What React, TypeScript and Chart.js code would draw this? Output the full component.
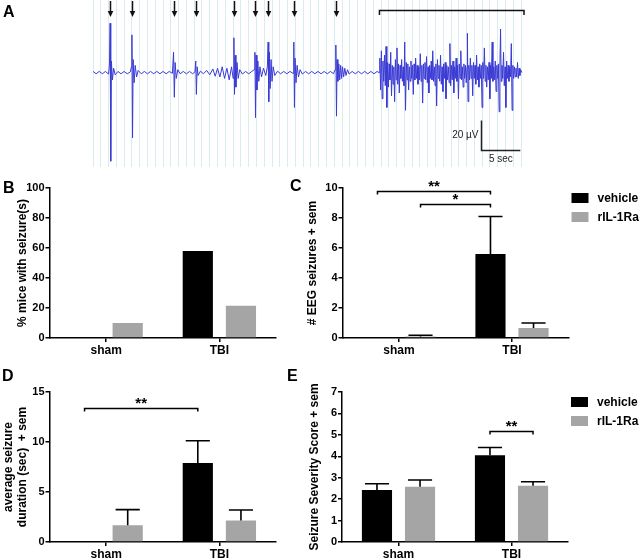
import React, { useEffect, useRef } from 'react';
import { Chart, registerables } from 'chart.js';

Chart.register(...registerables);

const FONT = "'Liberation Sans', Arial, Helvetica, sans-serif";
Chart.defaults.font.family = FONT;
Chart.defaults.color = '#000';

// ---------- Panel A: EEG trace (time in s, amplitude in µV) ----------
const eegSamples: [number, number][] = [
  [0.0, 0.8], [0.4, -0.8], [0.8, 0.8], [1.2, -0.8], [1.6, 0.8], [2.0, -1],
  [2.12, 6], [2.2, 34], [2.28, -61], [2.36, 8], [2.5, -5], [2.65, 3], [2.85, -1.5],
  [3.2, 0.8], [3.6, -0.8], [4.0, 0.8], [4.4, -0.8], [4.8, 0.5],
  [4.93, 4], [5.0, 26], [5.08, -45], [5.16, 9], [5.28, -7], [5.42, 5], [5.6, -3], [5.8, 1.5],
  [6.2, -0.8], [6.6, 0.8], [7.0, -0.8], [7.4, 0.8], [7.8, -0.8], [8.2, 0.8], [8.6, -0.8],
  [9.0, 0.8], [9.4, -0.8], [9.8, 0.8], [10.2, -0.5],
  [10.35, 14], [10.45, -17], [10.55, 7], [10.7, -4], [10.9, 2],
  [11.2, -0.8], [11.6, 0.8], [12.0, -0.8], [12.4, 0.8], [12.8, -0.8], [13.1, 0.5],
  [13.2, 8], [13.28, -15], [13.38, 4], [13.5, -2], [13.8, 1],
  [14.2, -0.8], [14.6, 1.5], [15.0, -1.5], [15.4, 2.5], [15.7, -2.5], [16.0, 3], [16.3, -3],
  [16.6, 4], [16.9, -4], [17.2, 3], [17.5, -5], [17.8, 4], [18.0, -4],
  [18.1, 24], [18.18, -15], [18.26, 12], [18.36, -10], [18.5, 7], [18.65, -4], [18.85, 2],
  [19.2, -1], [19.6, 0.8], [20.0, -0.8], [20.4, 0.8], [20.7, 2],
  [20.8, 14], [20.88, -31], [20.96, 12], [21.06, -12], [21.18, 8], [21.3, -6], [21.45, 4],
  [21.65, -3], [21.9, 3], [22.2, -2], [22.4, 4],
  [22.5, 21], [22.58, -20], [22.66, 14], [22.76, -11], [22.88, 9], [23.0, -6], [23.15, 4], [23.35, -2],
  [23.7, 1], [24.1, -0.8], [24.5, 0.8], [24.9, -0.8], [25.3, 0.8], [25.7, -0.5],
  [25.8, 21], [25.88, -24], [25.96, 10], [26.08, -7], [26.22, 5], [26.4, -3], [26.6, 2], [26.9, -1],
  [27.3, 0.8], [27.7, -0.8], [28.1, 0.8], [28.5, -0.8], [28.9, 0.8], [29.3, -0.8], [29.7, 0.8],
  [30.1, -0.8], [30.5, 0.8], [30.9, -0.8], [31.1, 2],
  [31.2, 19], [31.28, -30], [31.36, 9], [31.46, -6], [31.58, 6], [31.7, -5], [31.82, 5], [31.94, -4],
  [32.06, 4], [32.2, -3], [32.35, 3], [32.5, -2], [32.7, 2], [32.9, -1],
  [33.3, 0.8], [33.7, -0.8], [34.1, 0.8], [34.5, -0.8], [34.9, 0.8], [35.3, -0.8], [35.7, 0.8],
  [36.1, -0.8], [36.5, 0.8], [36.75, 0],
  [36.85, 10], [36.95, -12], [37.05, 15], [37.15, -18], [37.25, 8], [37.35, -6], [37.45, 12],
  [37.55, -9], [37.65, 18], [37.75, -24], [37.85, 7], [37.95, -10], [38.05, 6], [38.15, -5],
  [38.25, 14], [38.35, -16], [38.45, 5], [38.55, -8], [38.65, 4], [38.75, -20], [38.85, 9],
  [38.95, -5], [39.05, 17], [39.15, -8], [39.25, 6], [39.35, -14], [39.45, 5], [39.55, -4],
  [39.65, 9], [39.75, -6], [39.85, 4], [39.95, -9], [40.05, 21], [40.15, -26], [40.25, 7],
  [40.35, -5], [40.45, 6], [40.55, -12], [40.65, 4], [40.75, -6], [40.85, 8], [40.95, -4],
  [41.05, 5], [41.15, -15], [41.25, 6], [41.35, -5], [41.45, 10], [41.55, -4], [41.65, 5],
  [41.75, -8], [41.85, 4], [41.95, -5], [42.05, 13], [42.15, -6], [42.25, 5], [42.35, -21],
  [42.45, 6], [42.55, -4], [42.65, 7], [42.75, -5], [42.85, 11], [42.95, -7], [43.05, 4],
  [43.15, -14], [43.25, 5], [43.35, -4], [43.45, 8], [43.55, -5], [43.65, 15], [43.75, -6],
  [43.85, 4], [43.95, -9], [44.05, 6], [44.15, -23], [44.25, 9], [44.35, -4], [44.45, 5],
  [44.55, -6], [44.65, 12], [44.75, -8], [44.85, 4], [44.95, -13], [45.05, 6], [45.15, -4],
  [45.25, 7], [45.35, -18], [45.45, 5], [45.55, -5], [45.65, 4], [45.75, -7], [45.85, 20],
  [45.95, -9], [46.05, 5], [46.15, -5], [46.25, 8], [46.35, -14], [46.45, 4], [46.55, -4],
  [46.65, 10], [46.75, -6], [46.85, 5], [46.95, -18], [47.05, 6], [47.15, -4], [47.25, 15],
  [47.35, -5], [47.45, 4], [47.55, -10], [47.65, 6], [47.75, -4], [47.85, 5], [47.95, -7],
  [48.05, 4], [48.1, 27], [48.18, -20], [48.28, 5], [48.38, -5], [48.48, 10], [48.58, -4],
  [48.68, 5], [48.78, -16], [48.88, 7], [48.98, -4], [49.08, 5], [49.18, -8], [49.28, 12],
  [49.38, -5], [49.48, 4], [49.58, -10], [49.68, 6], [49.78, -4], [49.88, 5], [49.98, -24],
  [50.08, 7], [50.18, -4], [50.28, 17], [50.38, -6], [50.48, 5], [50.58, -10], [50.68, 4],
  [50.78, -5], [50.88, 7], [50.98, -18], [51.08, 5], [51.18, -4], [51.28, 21], [51.38, -6],
  [51.48, 4], [51.58, -5], [51.68, 8], [51.78, -13], [51.88, 5], [51.98, -4], [52.08, 6],
  [52.18, -27], [52.28, 5], [52.36, 30], [52.44, -6], [52.54, 5], [52.64, -4], [52.74, 14],
  [52.84, -9], [52.94, 4], [53.04, -24], [53.14, 8], [53.24, -4], [53.34, 5], [53.44, -6],
  [53.54, 4], [53.64, -3], [53.74, 20], [53.84, -26], [53.94, 5], [54.04, -4], [54.14, 4],
  [54.24, -3], [54.34, 3], [54.44, -3], [54.54, 7], [54.64, -4], [54.74, 3], [54.84, -2],
  [54.94, 2], [55.1, 0],
];
const seizureArrowTimes = [2.2, 5.0, 10.4, 13.2, 18.1, 20.8, 22.5, 25.8, 31.2];
const seizureBracketTimes = [36.8, 55.5];
const scaleBarTime = 49.9; // start of 5 sec bar
const scaleBarMicroVolt = -53; // base of 20 µV bar
const scaleBarLabels = ['20 µV', '5 sec'];

// ---------- Bar panels ----------
const groups = ['sham', 'TBI'];
const seriesNames = ['vehicle', 'rIL-1Ra'];
const seriesColors = ['#000000', '#a5a5a5'];

const pctVehicle = [0, 58];
const pctRil = [10, 21.5];
const pctTicks = [0, 20, 40, 60, 80, 100];

const countVehicle = [0, 5.6];
const countVehicleSem = [0, 2.5];
const countRil = [0.1, 0.67];
const countRilSem = [0.08, 0.33];
const countTicks = [0, 2, 4, 6, 8, 10];
const countBrackets = [
  { from: [0, 0], to: [1, 0], level: 9.82, label: '**' },
  { from: [0, 1], to: [1, 0], level: 8.95, label: '*' },
];

const durationVehicle = [0, 7.9];
const durationVehicleSem = [0, 2.23];
const durationRil = [1.68, 2.14];
const durationRilSem = [1.56, 1.06];
const durationTicks = [0, 5, 10, 15];
const durationBrackets = [{ from: [0, 0], to: [1, 0], level: 13.37, label: '**' }];

const severityVehicle = [2.43, 4.05];
const severityVehicleSem = [0.29, 0.36];
const severityRil = [2.58, 2.62];
const severityRilSem = [0.31, 0.19];
const severityTicks = [0, 1, 2, 3, 4, 5, 6, 7];
const severityBrackets = [{ from: [1, 0], to: [1, 1], level: 5.17, label: '**' }];

// ---------- plugins ----------
const errorBars = {
  id: 'errorBars',
  afterDatasetsDraw(chart: any) {
    const ctx = chart.ctx;
    const yS = chart.scales.y;
    chart.data.datasets.forEach((ds: any, di: number) => {
      if (!ds.sem) return;
      const meta = chart.getDatasetMeta(di);
      meta.data.forEach((bar: any, i: number) => {
        const s = ds.sem[i];
        if (!s) return;
        const v = ds.data[i];
        const top = yS.getPixelForValue(v + s);
        const base = yS.getPixelForValue(v);
        const half = bar.width * 0.4;
        ctx.save();
        ctx.strokeStyle = '#000';
        ctx.lineWidth = 1.6;
        ctx.beginPath();
        ctx.moveTo(bar.x, base);
        ctx.lineTo(bar.x, top);
        ctx.moveTo(bar.x - half, top);
        ctx.lineTo(bar.x + half, top);
        ctx.stroke();
        ctx.restore();
      });
    });
  },
};

function bracketPlugin(items: any[]) {
  return {
    id: 'sigBrackets',
    afterDatasetsDraw(chart: any) {
      const ctx = chart.ctx;
      const yS = chart.scales.y;
      items.forEach((b) => {
        const x0 = chart.getDatasetMeta(b.from[1]).data[b.from[0]].x;
        const x1 = chart.getDatasetMeta(b.to[1]).data[b.to[0]].x;
        const y = Math.round(yS.getPixelForValue(b.level)) + 0.5;
        ctx.save();
        ctx.strokeStyle = '#000';
        ctx.lineWidth = 1.5;
        ctx.beginPath();
        ctx.moveTo(x0, y + 3);
        ctx.lineTo(x0, y);
        ctx.lineTo(x1, y);
        ctx.lineTo(x1, y + 3);
        ctx.stroke();
        ctx.fillStyle = '#000';
        ctx.font = `bold 15px ${FONT}`;
        ctx.textAlign = 'center';
        ctx.textBaseline = 'alphabetic';
        ctx.fillText(b.label, (x0 + x1) / 2, y - 1);
        ctx.restore();
      });
    },
  };
}

const sideLegend = {
  id: 'sideLegend',
  afterDraw(chart: any) {
    const { ctx, chartArea } = chart;
    ctx.save();
    chart.data.datasets.forEach((ds: any, i: number) => {
      const bx = chartArea.right + 3;
      const by = chartArea.top + 5 + i * 19;
      ctx.fillStyle = ds.backgroundColor;
      ctx.fillRect(bx, by, 17, 10);
      ctx.fillStyle = '#000';
      ctx.font = `bold 12px ${FONT}`;
      ctx.textAlign = 'left';
      ctx.textBaseline = 'middle';
      ctx.fillText(ds.label, bx + 26, by + 5.5);
    });
    ctx.restore();
  },
};

const eegMarks = {
  id: 'eegMarks',
  afterDatasetsDraw(chart: any) {
    const { ctx, chartArea } = chart;
    const x = chart.scales.x;
    const y = chart.scales.y;
    ctx.save();
    ctx.strokeStyle = '#111';
    ctx.fillStyle = '#111';
    ctx.lineWidth = 1.5;
    seizureArrowTimes.forEach((t) => {
      const px = Math.round(x.getPixelForValue(t)) + 0.5;
      const top = chartArea.top;
      ctx.beginPath();
      ctx.moveTo(px, top + 1);
      ctx.lineTo(px, top + 12);
      ctx.stroke();
      ctx.beginPath();
      ctx.moveTo(px - 2.8, top + 11);
      ctx.lineTo(px + 2.8, top + 11);
      ctx.lineTo(px, top + 17);
      ctx.closePath();
      ctx.fill();
    });
    const bx0 = x.getPixelForValue(seizureBracketTimes[0]);
    const bx1 = x.getPixelForValue(seizureBracketTimes[1]) - 1;
    const by = chartArea.top + 10.5;
    ctx.beginPath();
    ctx.moveTo(bx0, by + 4.5);
    ctx.lineTo(bx0, by);
    ctx.lineTo(bx1, by);
    ctx.lineTo(bx1, by + 4.5);
    ctx.stroke();

    const sx0 = Math.round(x.getPixelForValue(scaleBarTime)) + 0.5;
    const sx1 = x.getPixelForValue(scaleBarTime + 5);
    const sy0 = Math.round(y.getPixelForValue(scaleBarMicroVolt)) + 0.5;
    const sy1 = y.getPixelForValue(scaleBarMicroVolt + 20);
    ctx.strokeStyle = '#222';
    ctx.beginPath();
    ctx.moveTo(sx0, sy1);
    ctx.lineTo(sx0, sy0);
    ctx.lineTo(sx1, sy0);
    ctx.stroke();
    ctx.fillStyle = '#222';
    ctx.font = `10px ${FONT}`;
    ctx.textBaseline = 'middle';
    ctx.textAlign = 'right';
    ctx.fillText(scaleBarLabels[0], sx0 - 3, (sy0 + sy1) / 2);
    ctx.textAlign = 'center';
    ctx.fillText(scaleBarLabels[1], (sx0 + sx1) / 2, sy0 + 8.5);
    ctx.restore();
  },
};

// ---------- configs ----------
function eegConfig(): any {
  return {
    type: 'line',
    data: {
      datasets: [
        {
          data: eegSamples.map(([t, v]) => ({ x: t, y: v })),
          borderColor: '#3a3ad4',
          borderWidth: 1,
          pointRadius: 0,
          tension: 0,
        },
      ],
    },
    options: {
      animation: false,
      responsive: false,
      maintainAspectRatio: false,
      events: [],
      layout: { padding: { left: 93, right: 115, top: 0, bottom: 8 } },
      plugins: { legend: { display: false }, tooltip: { enabled: false } },
      scales: {
        x: {
          type: 'linear',
          min: 0,
          max: 55.5,
          afterBuildTicks: (s: any) => {
            s.ticks = Array.from({ length: 56 }, (_, i) => ({ value: i }));
          },
          ticks: { display: false },
          grid: { color: 'rgba(170, 215, 222, 0.45)', lineWidth: 1, drawTicks: false },
          border: { display: false },
          afterFit: (s: any) => {
            s.height = 0;
          },
        },
        y: { display: false, min: -65, max: 50 },
      },
    },
    plugins: [eegMarks],
  };
}

interface BarPanel {
  vehicle: number[];
  vehicleSem?: number[];
  ril: number[];
  rilSem?: number[];
  ticks: number[];
  title: string | string[];
  titlePad: number;
  titleLineHeight?: number;
  padTop: number;
  padRight: number;
  yWidth: number;
  xHeight: number;
  brackets: any[];
  legend: boolean;
}

function barConfig(p: BarPanel): any {
  const plugins: any[] = [errorBars, bracketPlugin(p.brackets)];
  if (p.legend) plugins.push(sideLegend);
  return {
    type: 'bar',
    data: {
      labels: groups,
      datasets: [
        {
          label: seriesNames[0],
          data: p.vehicle,
          sem: p.vehicleSem,
          backgroundColor: seriesColors[0],
          categoryPercentage: 0.762,
          barPercentage: 0.7,
        },
        {
          label: seriesNames[1],
          data: p.ril,
          sem: p.rilSem,
          backgroundColor: seriesColors[1],
          categoryPercentage: 0.762,
          barPercentage: 0.7,
        },
      ],
    },
    options: {
      animation: false,
      responsive: false,
      maintainAspectRatio: false,
      events: [],
      layout: { padding: { left: 0, top: p.padTop, right: p.padRight, bottom: 0 } },
      plugins: { legend: { display: false }, tooltip: { enabled: false } },
      scales: {
        x: {
          grid: {
            display: true,
            drawOnChartArea: false,
            offset: false,
            tickLength: 4,
            color: '#000',
            lineWidth: 1.5,
          },
          border: { color: '#000', width: 1.5 },
          ticks: {
            color: '#000',
            font: { family: FONT, size: 12, weight: 'bold' },
            padding: 1,
            maxRotation: 0,
          },
          afterFit: (s: any) => {
            s.height = p.xHeight;
          },
        },
        y: {
          min: p.ticks[0],
          max: p.ticks[p.ticks.length - 1],
          afterBuildTicks: (s: any) => {
            s.ticks = p.ticks.map((v) => ({ value: v }));
          },
          grid: { drawOnChartArea: false, tickLength: 4, color: '#000', lineWidth: 1.5 },
          border: { color: '#000', width: 1.5 },
          ticks: { color: '#000', font: { family: FONT, size: 11, weight: 'bold' }, padding: 1 },
          title: {
            display: true,
            text: p.title,
            color: '#000',
            font: { family: FONT, size: 12, weight: 'bold', lineHeight: p.titleLineHeight || 1.2 },
            padding: { top: p.titlePad, bottom: 0 },
          },
          afterFit: (s: any) => {
            s.width = p.yWidth;
          },
        },
      },
    },
    plugins,
  };
}

function ChartBox(props: { x: number; y: number; w: number; h: number; make: () => any }) {
  const ref = useRef<HTMLCanvasElement>(null);
  useEffect(() => {
    const chart = new Chart(ref.current as HTMLCanvasElement, props.make());
    return () => chart.destroy();
  }, []);
  return (
    <canvas
      ref={ref}
      width={props.w}
      height={props.h}
      style={{ position: 'absolute', left: props.x, top: props.y, width: props.w, height: props.h }}
    />
  );
}

function PanelLabel(props: { x: number; y: number; text: string }) {
  return (
    <div
      style={{
        position: 'absolute',
        left: props.x,
        top: props.y,
        fontFamily: FONT,
        fontWeight: 'bold',
        fontSize: 16,
        lineHeight: '16px',
        color: '#000',
      }}
    >
      {props.text}
    </div>
  );
}

export default function App() {
  return (
    <div
      style={{
        position: 'absolute',
        left: 0,
        top: 0,
        width: 640,
        height: 559,
        background: '#fff',
        overflow: 'hidden',
      }}
    >
      <ChartBox x={0} y={0} w={640} h={175} make={eegConfig} />
      <ChartBox
        x={0}
        y={175}
        w={290}
        h={190}
        make={() =>
          barConfig({
            vehicle: pctVehicle,
            ril: pctRil,
            ticks: pctTicks,
            title: '% mice with seizure(s)',
            titlePad: 15,
            padTop: 13,
            padRight: 14,
            yWidth: 49.5,
            xHeight: 27,
            brackets: [],
            legend: false,
          })
        }
      />
      <ChartBox
        x={290}
        y={175}
        w={350}
        h={190}
        make={() =>
          barConfig({
            vehicle: countVehicle,
            vehicleSem: countVehicleSem,
            ril: countRil,
            rilSem: countRilSem,
            ticks: countTicks,
            title: '# EEG seizures + sem',
            titlePad: 15.5,
            padTop: 13,
            padRight: 71.5,
            yWidth: 52.5,
            xHeight: 27,
            brackets: countBrackets,
            legend: true,
          })
        }
      />
      <ChartBox
        x={0}
        y={365}
        w={290}
        h={194}
        make={() =>
          barConfig({
            vehicle: durationVehicle,
            vehicleSem: durationVehicleSem,
            ril: durationRil,
            rilSem: durationRilSem,
            ticks: durationTicks,
            title: ['average seizure', 'duration (sec)  + sem'],
            titlePad: 2.5,
            titleLineHeight: 1.1,
            padTop: 27,
            padRight: 14,
            yWidth: 49.5,
            xHeight: 17,
            brackets: durationBrackets,
            legend: false,
          })
        }
      />
      <ChartBox
        x={290}
        y={365}
        w={350}
        h={194}
        make={() =>
          barConfig({
            vehicle: severityVehicle,
            vehicleSem: severityVehicleSem,
            ril: severityRil,
            rilSem: severityRilSem,
            ticks: severityTicks,
            title: 'Seizure Severity Score + sem',
            titlePad: 17.5,
            padTop: 27,
            padRight: 72,
            yWidth: 52,
            xHeight: 17,
            brackets: severityBrackets,
            legend: true,
          })
        }
      />
      <PanelLabel x={3} y={4} text="A" />
      <PanelLabel x={3} y={180} text="B" />
      <PanelLabel x={290} y={178} text="C" />
      <PanelLabel x={2} y={368} text="D" />
      <PanelLabel x={287} y={368} text="E" />
    </div>
  );
}
